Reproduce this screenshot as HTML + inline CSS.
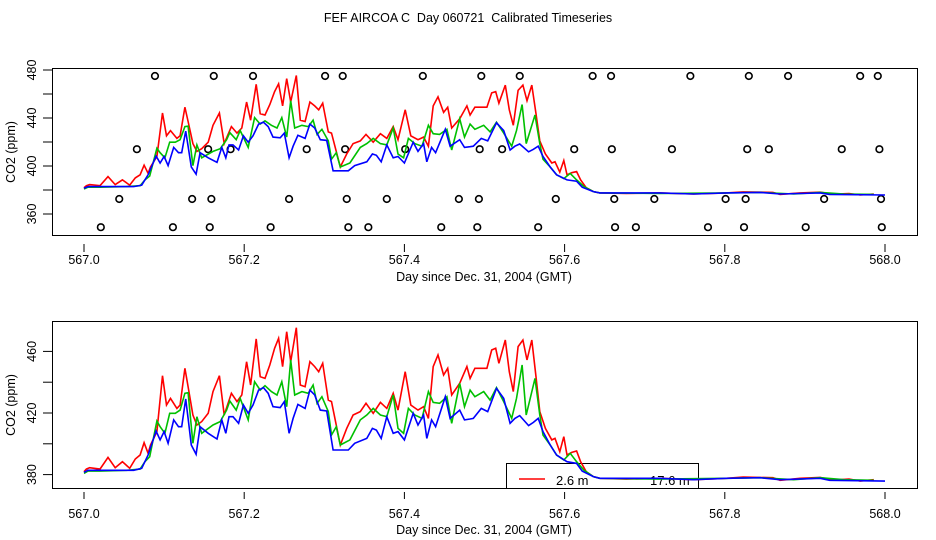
<!DOCTYPE html>
<html><head><meta charset="utf-8"><style>
html,body{margin:0;padding:0;background:#fff;}
svg{display:block;font-family:"Liberation Sans",sans-serif;}
text{fill:#000;}
</style></head><body>
<svg id="chart" width="936" height="540" viewBox="0 0 936 540" xmlns="http://www.w3.org/2000/svg">
<text x="468" y="22" font-size="12.5" text-anchor="middle" style="white-space:pre">FEF AIRCOA C  Day 060721  Calibrated Timeseries</text>
</svg>
<script>
// ---- data ----
const xTicks = [567.0, 567.2, 567.4, 567.6, 567.8, 568.0];
const xTickLabels = ["567.0", "567.2", "567.4", "567.6", "567.8", "568.0"];
const topYTicks = [360, 380, 400, 420, 440, 460, 480];
const topYLabels = ["360", null, "400", null, "440", null, "480"];
const botYTicks = [380, 400, 420, 440, 460];
const botYLabels = ["380", null, "420", null, "460"];

const redDays = [0,.003,.007,.020,.030,.039,.048,.057,.064,.070,.075,.080,.083,.091,.098,.103,.108,.116,.120,.126,.130,.136,.141,.147,.155,.161,.169,.175,.184,.191,.197,.203,.208,.215,.220,.226,.232,.238,.243,.248,.253,.258,.265,.270,.276,.282,.288,.293,.298,.305,.309,.320,.328,.336,.345,.352,.361,.370,.378,.386,.392,.401,.408,.417,.424,.430,.436,.442,.449,.454,.459,.469,.478,.482,.488,.503,.509,.514,.518,.526,.531,.536,.542,.548,.553,.559,.564,.569,.576,.584,.588,.594,.599,.603,.609,.615,.620,.627,.636,.644,.677,.719,.761,.802,.823,.860,.869,.894,.919,.936,.955,.969,.986];
const redCO2 = [381.9,383.6,384.5,383.6,391.2,384.5,388.4,384.1,390.1,392.7,400.7,393.8,399.2,407.9,444.2,425.2,429.5,423.0,425.2,449.0,437.1,418.7,412.2,414.4,419.8,433.9,444.2,418.7,432.8,427.4,431.7,453.3,438.2,468.1,443.6,442.5,451.2,462.0,468.5,450.1,472.8,453.3,475.4,438.2,437.1,453.3,450.1,446.8,452.3,428.4,427.4,399.2,410.0,418.7,420.9,426.3,419.8,426.9,423.0,432.8,421.9,446.8,425.2,421.9,424.1,416.5,450.1,457.7,444.7,449.0,431.7,439.3,450.1,442.5,449.0,449.0,460.9,462.0,452.3,467.4,446.8,433.9,463.1,467.4,454.4,467.4,444.7,420.9,410.0,402.5,403.5,394.9,404.6,392.7,394.4,395.3,388.4,381.9,378.7,377.6,377.1,377.6,376.7,377.6,378.4,378.0,376.3,377.6,378.2,376.5,377.1,375.8,376.7];

const greenDays = [0,.005,.020,.053,.070,.076,.082,.091,.095,.101,.107,.114,.120,.126,.130,.136,.141,.147,.161,.170,.178,.182,.190,.195,.205,.213,.220,.226,.234,.241,.247,.253,.258,.263,.272,.280,.286,.291,.297,.305,.309,.315,.320,.332,.345,.353,.361,.370,.378,.386,.392,.399,.405,.413,.422,.430,.436,.444,.453,.459,.469,.475,.482,.488,.499,.507,.515,.524,.534,.540,.547,.552,.557,.563,.569,.573,.582,.590,.599,.607,.615,.624,.636,.644,.719,.802,.844,.886,.919,.949,.986];
const greenCO2 = [380.8,382.3,382.3,382.8,383.6,388.4,391.6,414.8,411.1,406.8,419.8,419.8,421.9,432.8,433.2,400.3,417.6,406.8,412.2,414.4,421.9,427.8,421.9,429.5,415.5,440.3,434.9,437.7,433.9,431.7,440.3,424.1,454.4,431.7,433.9,432.8,438.2,426.3,430.6,420.9,405.7,411.1,399.2,402.5,415.5,418.7,423.0,418.7,417.6,431.7,410.0,406.8,423.0,418.7,416.5,433.9,426.9,426.3,430.6,413.3,439.3,424.1,434.9,430.6,433.9,428.4,436.5,427.4,416.5,429.5,451.2,418.7,429.5,442.5,418.7,405.7,399.2,392.7,389.5,393.8,388.4,383.0,378.7,377.6,377.1,377.6,378.0,376.7,378.0,376.7,376.3];

const blueDays = [0,.005,.062,.072,.080,.090,.095,.100,.105,.112,.118,.122,.127,.130,.134,.140,.145,.155,.166,.172,.177,.181,.186,.193,.199,.205,.211,.218,.224,.230,.236,.245,.250,.256,.261,.267,.276,.282,.288,.295,.303,.311,.330,.338,.353,.360,.365,.371,.378,.386,.392,.400,.411,.417,.424,.428,.434,.439,.451,.457,.469,.475,.482,.486,.496,.504,.515,.524,.532,.538,.544,.555,.561,.567,.573,.582,.590,.603,.615,.622,.636,.644,.719,.761,.802,.844,.869,.919,.931,1.000];
const blueCO2 = [381.5,382.8,382.8,384.1,392.7,408.3,402.5,407.9,400.3,415.5,411.1,411.1,429.1,416.5,399.2,393.2,411.1,406.8,403.1,415.5,406.8,417.6,417.6,413.3,425.2,419.8,425.2,434.9,436.5,432.8,424.1,423.5,427.4,406.8,416.5,425.6,423.0,434.9,431.7,421.9,421.3,396.0,396.0,400.3,403.5,410.0,408.9,403.5,417.6,406.8,407.9,402.5,419.8,412.2,418.7,403.5,415.5,411.1,430.6,416.5,421.9,415.5,416.1,416.5,423.0,420.9,436.0,429.5,413.3,416.5,418.3,411.8,413.9,416.5,407.9,399.2,392.7,388.4,387.3,382.3,378.7,377.6,377.6,376.7,377.6,378.0,376.7,377.6,376.3,375.8];

const flagHiDays = [.0886,.162,.211,.301,.323,.423,.496,.544,.635,.658,.757,.830,.879,.969,.991];
const flagMidDays = [.066,.155,.183,.278,.326,.401,.494,.522,.612,.659,.734,.828,.855,.946,.993];
const flagLowDays = [.044,.135,.159,.256,.328,.378,.468,.493,.589,.662,.712,.801,.826,.924,.995];
const flagMinDays = [.021,.111,.157,.233,.330,.355,.446,.491,.567,.663,.689,.779,.824,.901,.996];
const flagLevels = [475, 414, 372.5, 349];

const legendLabels = ["2.6 m", "17.6 m"];

// ---- drawing ----
const NS = "http://www.w3.org/2000/svg";
const svg = document.getElementById('chart');
function mk(tag, attrs, parent) {
  const e = document.createElementNS(NS, tag);
  for (const k in attrs) e.setAttribute(k, attrs[k]);
  (parent || svg).appendChild(e);
  return e;
}
const xScale = d => 84 + (d - 567) * 801;

function panel(p) {
  const g = mk('g', {});
  
  
  const yScale = v => p.y0 - (v - p.v0) * p.k;
  const box = mk('rect', {x: 52.5, y: p.top, width: 865, height: p.bot - p.top, fill: 'none', stroke: '#000', 'stroke-width': 1}, g);
  
  
  xTicks.forEach((t, i) => {
    const x = xScale(t);
    const tk = mk('line', {x1: x, x2: x, y1: p.xt0, y2: p.xt1, stroke: '#000'}, g);
    
    
    const tl = mk('text', {x: x, y: p.xlabY, 'font-size': 12.5, 'text-anchor': 'middle'}, g);
    
    
    tl.textContent = xTickLabels[i];
  });
  p.yTicks.forEach((t, i) => {
    const y = yScale(t);
    const tk = mk('line', {x1: 43, x2: 52.5, y1: y, y2: y, stroke: '#000'}, g);
    
    
    if (p.yLabels[i]) {
      const tl = mk('text', {x: 0, y: 0, 'font-size': 12.5, 'text-anchor': 'middle', transform: `translate(36,${y}) rotate(-90)`}, g);
      
      
      tl.textContent = p.yLabels[i];
    }
  });
  const yt = mk('text', {x: 0, y: 0, 'font-size': 12.5, 'text-anchor': 'middle', transform: `translate(15,${(p.top + p.bot) / 2}) rotate(-90)`}, g);
  
  
  yt.textContent = 'CO2 (ppm)';
  const xt = mk('text', {x: 484, y: p.xtitY, 'font-size': 12.5, 'text-anchor': 'middle'}, g);
  
  
  xt.textContent = 'Day since Dec. 31, 2004 (GMT)';

  if (p.legend) {
    const lg = mk('g', {}, g);
    
    
    mk('rect', {x: 506.5, y: 463.5, width: 192, height: p.bot - 463.5, fill: '#fff', stroke: '#000'}, lg);
    const ll = mk('line', {x1: 519, x2: 545, y1: 479, y2: 479, stroke: '#f00', 'stroke-width': 1.6}, lg);
    
    
    const t1 = mk('text', {x: 556, y: 485, 'font-size': 13}, lg);
    
    
    t1.textContent = legendLabels[0];
    const t2 = mk('text', {x: 650, y: 485, 'font-size': 13}, lg);
    
    
    t2.textContent = legendLabels[1];
  }

  if (p.flags) {
    const fg = mk('g', {}, g);
    
    
    [flagHiDays, flagMidDays, flagLowDays, flagMinDays].forEach((arr, li) => {
      arr.forEach(d => {
        const c = mk('circle', {cx: xScale(567 + d), cy: yScale(flagLevels[li]), r: 3.3, fill: 'none', stroke: '#000', 'stroke-width': 1.6}, fg);
        
        
      });
    });
  }

  const series = [
    ['series-2.6m', redDays, redCO2, '#f00'],
    ['series-mid', greenDays, greenCO2, '#00c000'],
    ['series-17.6m', blueDays, blueCO2, '#00f']
  ];
  series.forEach(s => {
    const pts = s[1].map((d, i) => xScale(567 + d).toFixed(1) + ',' + yScale(s[2][i]).toFixed(1)).join(' ');
    const pl = mk('polyline', {points: pts, fill: 'none', stroke: s[3], 'stroke-width': 1.6, 'stroke-linejoin': 'miter'}, g);
    
    
  });
}

panel({name: 'top-panel', top: 68.5, bot: 235.5, y0: 166, v0: 400, k: 1.2, yTicks: topYTicks, yLabels: topYLabels,
  xt0: 244, xt1: 252, xlabY: 264, xtitY: 281, flags: true});
panel({name: 'bottom-panel', top: 321.5, bot: 488.5, y0: 413, v0: 420, k: 1.54, yTicks: botYTicks, yLabels: botYLabels,
  xt0: 492, xt1: 499, xlabY: 518, xtitY: 534, legend: true});
</script>
</body></html>
